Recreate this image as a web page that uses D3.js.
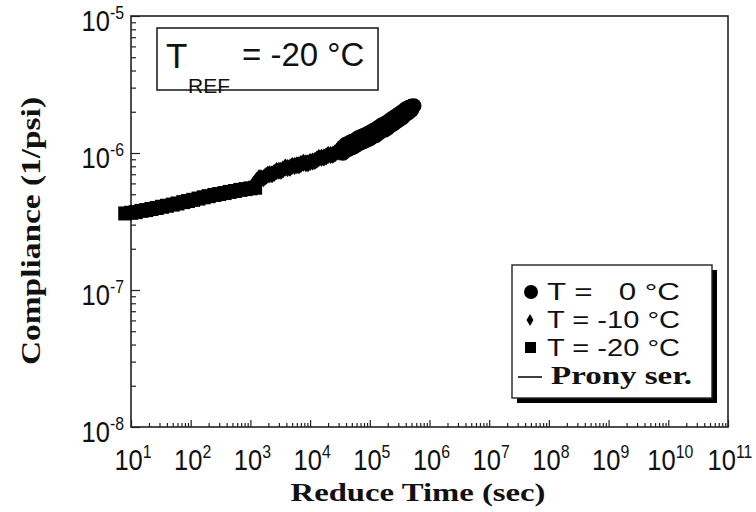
<!DOCTYPE html>
<html>
<head>
<meta charset="utf-8">
<script src="https://cdn.jsdelivr.net/npm/d3@7"></script>
<style>
  html, body { margin: 0; padding: 0; background: #fff; }
  svg { display: block; }
</style>
</head>
<body>
<svg id="chart" width="756" height="512"></svg>
<script>
// Creep compliance master curve, shifted to T_REF = -20 °C
const tempLabels = ["T =   0 °C", "T = -10 °C", "T = -20 °C", "Prony ser."];

// T = -20 °C (squares)
const timeM20 = [8, 10, 12, 15, 18, 22, 27, 33, 40, 50, 60, 75, 90, 110, 135, 165, 200, 250, 300, 370, 450, 550, 680, 830, 1000, 1200];
const compM20 = [3.62e-7, 3.66e-7, 3.70e-7, 3.78e-7, 3.83e-7, 3.90e-7, 3.97e-7, 4.05e-7, 4.12e-7, 4.20e-7, 4.28e-7, 4.38e-7, 4.46e-7, 4.55e-7, 4.65e-7, 4.75e-7, 4.84e-7, 4.94e-7, 5.02e-7, 5.10e-7, 5.20e-7, 5.28e-7, 5.38e-7, 5.45e-7, 5.52e-7, 5.58e-7];

// T = -10 °C (diamonds)
const timeM10 = [1300, 1400, 1500, 1650, 1800, 1950, 2100, 2300, 2500, 2750, 3000, 3250, 3500, 3850, 4200, 4600, 5000, 5500, 6000, 6500, 7000, 7700, 8500, 9200, 10000, 11000, 12000, 13000, 14000, 15500, 17000, 18500, 20000, 22000, 24000, 26000, 28000, 30500, 33000, 36500, 40000, 44000];
const compM10 = [6.31e-7, 6.55e-7, 6.53e-7, 6.55e-7, 6.76e-7, 6.95e-7, 7.00e-7, 7.00e-7, 7.16e-7, 7.40e-7, 7.41e-7, 7.42e-7, 7.59e-7, 7.85e-7, 7.76e-7, 7.80e-7, 8.05e-7, 8.04e-7, 8.13e-7, 8.15e-7, 8.32e-7, 8.50e-7, 8.41e-7, 8.40e-7, 8.60e-7, 8.67e-7, 8.75e-7, 8.95e-7, 9.20e-7, 9.23e-7, 9.28e-7, 9.44e-7, 9.65e-7, 9.66e-7, 9.72e-7, 9.93e-7, 1.02e-6, 1.023e-6, 1.03e-6, 1.054e-6, 1.08e-6, 1.084e-6];

// T = 0 °C (circles)
const time0 = [35500, 35500, 39800, 39800, 44700, 44700, 50100, 50100, 56200, 56200, 63100, 63100, 70800, 70800, 79400, 79400, 89100, 89100, 100000, 100000, 112000, 112000, 126000, 126000, 141000, 141000, 158000, 158000, 178000, 178000, 200000, 200000, 224000, 224000, 251000, 251000, 282000, 282000, 316000, 316000, 355000, 355000, 398000, 398000, 447000, 447000, 501000, 501000, 550000];
const comp0 = [1.11e-6, 0.995e-6, 1.16e-6, 1.04e-6, 1.19e-6, 1.065e-6, 1.22e-6, 1.09e-6, 1.245e-6, 1.115e-6, 1.29e-6, 1.155e-6, 1.32e-6, 1.185e-6, 1.35e-6, 1.21e-6, 1.38e-6, 1.24e-6, 1.415e-6, 1.265e-6, 1.46e-6, 1.31e-6, 1.50e-6, 1.34e-6, 1.55e-6, 1.39e-6, 1.605e-6, 1.44e-6, 1.64e-6, 1.47e-6, 1.70e-6, 1.52e-6, 1.76e-6, 1.58e-6, 1.82e-6, 1.63e-6, 1.885e-6, 1.69e-6, 1.95e-6, 1.75e-6, 2.02e-6, 1.81e-6, 2.10e-6, 1.90e-6, 2.16e-6, 1.97e-6, 2.20e-6, 2.05e-6, 2.21e-6];

// Prony series fit
const timeProny = [10, 100, 1000, 10000, 100000, 500000];
const compProny = [3.66e-7, 4.50e-7, 5.60e-7, 8.50e-7, 1.33e-6, 2.12e-6];

// Axis tick exponents
const xExps = [1, 2, 3, 4, 5, 6, 7, 8, 9, 10, 11];
const yExps = [-5, -6, -7, -8];

const svg = d3.select("#chart");
const L = 131, R = 728, T = 16, B = 427;

const x = d3.scaleLog().domain([1e1, 1e11]).range([L, R]);
const y = d3.scaleLog().domain([1e-8, 1e-5]).range([B, T]);

const sansFont = "'Liberation Sans', Arial, Helvetica, sans-serif";
const serifFont = "'Liberation Serif', 'Times New Roman', serif";

// minor tick values (2..9 within each decade)
function minors(lo, hi) {
  const out = [];
  for (let e = lo; e < hi; e++) for (let k = 2; k <= 9; k++) out.push(k * Math.pow(10, e));
  return out;
}

// x axis ticks (inward)
const gx = svg.append("g").attr("transform", `translate(0,${B})`);
gx.append("g").call(d3.axisBottom(x).tickValues(minors(1, 11)).tickSize(-4).tickFormat(""));
gx.append("g").call(d3.axisBottom(x).tickValues(xExps.map(e => Math.pow(10, e))).tickSize(-7).tickFormat(""));
gx.selectAll(".domain").remove();
gx.selectAll(".tick line").attr("stroke", "#222").attr("stroke-width", 1.2);

// y axis ticks (inward)
const gy = svg.append("g").attr("transform", `translate(${L},0)`);
gy.append("g").call(d3.axisLeft(y).tickValues(minors(-8, -5)).tickSize(-5).tickFormat(""));
gy.append("g").call(d3.axisLeft(y).tickValues(yExps.map(e => Math.pow(10, e))).tickSize(-9).tickFormat(""));
gy.selectAll(".domain").remove();
gy.selectAll(".tick line").attr("stroke", "#222").attr("stroke-width", 1.2);

// tick labels as 10^n, in a condensed face
function powLabel(px, py, anchor, e) {
  const g = svg.append("g").attr("transform", `translate(${px},${py}) scale(0.88,1)`);
  const t = g.append("text")
    .attr("text-anchor", anchor)
    .attr("font-family", sansFont)
    .attr("font-size", 29)
    .attr("fill", "#111");
  t.append("tspan").text("10");
  t.append("tspan").attr("dy", -12).attr("font-size", 18).text(String(e));
}
xExps.forEach(e => powLabel(x(Math.pow(10, e)) + 2, 470, "middle", e));
yExps.forEach(e => powLabel(124, y(Math.pow(10, e)) + 15, "end", e));

// plot frame
svg.append("rect")
  .attr("x", L).attr("y", T).attr("width", R - L).attr("height", B - T)
  .attr("fill", "none").attr("stroke", "#222").attr("stroke-width", 1.6);

// axis titles
svg.append("text")
  .attr("x", 418).attr("y", 501)
  .attr("text-anchor", "middle")
  .attr("font-family", serifFont).attr("font-weight", "bold")
  .attr("font-size", 26).attr("fill", "#111")
  .attr("textLength", 255).attr("lengthAdjust", "spacingAndGlyphs")
  .text("Reduce Time (sec)");
svg.append("text")
  .attr("transform", "translate(40,231) rotate(-90)")
  .attr("text-anchor", "middle")
  .attr("font-family", serifFont).attr("font-weight", "bold")
  .attr("font-size", 28).attr("fill", "#111")
  .attr("textLength", 268).attr("lengthAdjust", "spacingAndGlyphs")
  .text("Compliance (1/psi)");

// Prony series line
const line = d3.line().x(d => x(d[0])).y(d => y(d[1]));
svg.append("path")
  .datum(timeProny.map((t, i) => [t, compProny[i]]))
  .attr("d", line).attr("fill", "none").attr("stroke", "#000").attr("stroke-width", 1.5);

const plot = svg.append("g");
// squares
plot.selectAll("rect.sq").data(timeM20.map((t, i) => [t, compM20[i]])).join("rect")
  .attr("class", "sq")
  .attr("x", d => x(d[0]) - 7).attr("y", d => y(d[1]) - 7)
  .attr("width", 14).attr("height", 14).attr("fill", "#000");
// diamonds
const diamond = "M0,-9L7,0L0,9L-7,0Z";
plot.selectAll("path.dm").data(timeM10.map((t, i) => [t, compM10[i]])).join("path")
  .attr("class", "dm")
  .attr("transform", d => `translate(${x(d[0])},${y(d[1])})`)
  .attr("d", diamond).attr("fill", "#000");
// circles
plot.selectAll("circle.cc").data(time0.map((t, i) => [t, comp0[i]])).join("circle")
  .attr("class", "cc")
  .attr("cx", d => x(d[0])).attr("cy", d => y(d[1]))
  .attr("r", 7.5).attr("fill", "#000");

// reference temperature box
svg.append("rect")
  .attr("x", 157).attr("y", 28).attr("width", 221).attr("height", 62)
  .attr("fill", "#fff").attr("stroke", "#222").attr("stroke-width", 1.6);
const refText = svg.append("text")
  .attr("font-family", sansFont).attr("fill", "#111");
refText.append("tspan").attr("x", 166).attr("y", 68).attr("font-size", 35).text("T");
refText.append("tspan").attr("x", 188).attr("y", 93).attr("font-size", 21).text("REF");
refText.append("tspan").attr("x", 242).attr("y", 66).attr("font-size", 33).text("= -20 °C");

// legend
const lg = svg.append("g");
lg.append("rect").attr("x", 517).attr("y", 270).attr("width", 200).attr("height", 133).attr("fill", "#000");
lg.append("rect").attr("x", 512).attr("y", 265).attr("width", 200).attr("height", 133)
  .attr("fill", "#fff").attr("stroke", "#222").attr("stroke-width", 1.4);
const rowY = [300, 328, 356, 384];
lg.append("circle").attr("cx", 531).attr("cy", 292).attr("r", 7).attr("fill", "#000");
lg.append("path").attr("transform", "translate(530,320)").attr("d", "M0,-6L3.5,0L0,6L-3.5,0Z").attr("fill", "#000");
lg.append("rect").attr("x", 525).attr("y", 342).attr("width", 11).attr("height", 11).attr("fill", "#000");
lg.append("line").attr("x1", 518).attr("x2", 542).attr("y1", 377).attr("y2", 377).attr("stroke", "#000").attr("stroke-width", 1.5);
tempLabels.forEach((s, i) => {
  const t = lg.append("text")
    .attr("x", i < 3 ? 547 : 551).attr("y", rowY[i])
    .attr("fill", "#111")
    .style("white-space", "pre")
    .attr("xml:space", "preserve")
    .text(s);
  if (i < 3) {
    t.attr("font-family", sansFont).attr("font-size", 23)
      .attr("textLength", 133).attr("lengthAdjust", "spacingAndGlyphs");
  } else {
    t.attr("font-family", serifFont).attr("font-weight", "bold").attr("font-size", 26)
      .attr("textLength", 141).attr("lengthAdjust", "spacingAndGlyphs");
  }
});
</script>
</body>
</html>
